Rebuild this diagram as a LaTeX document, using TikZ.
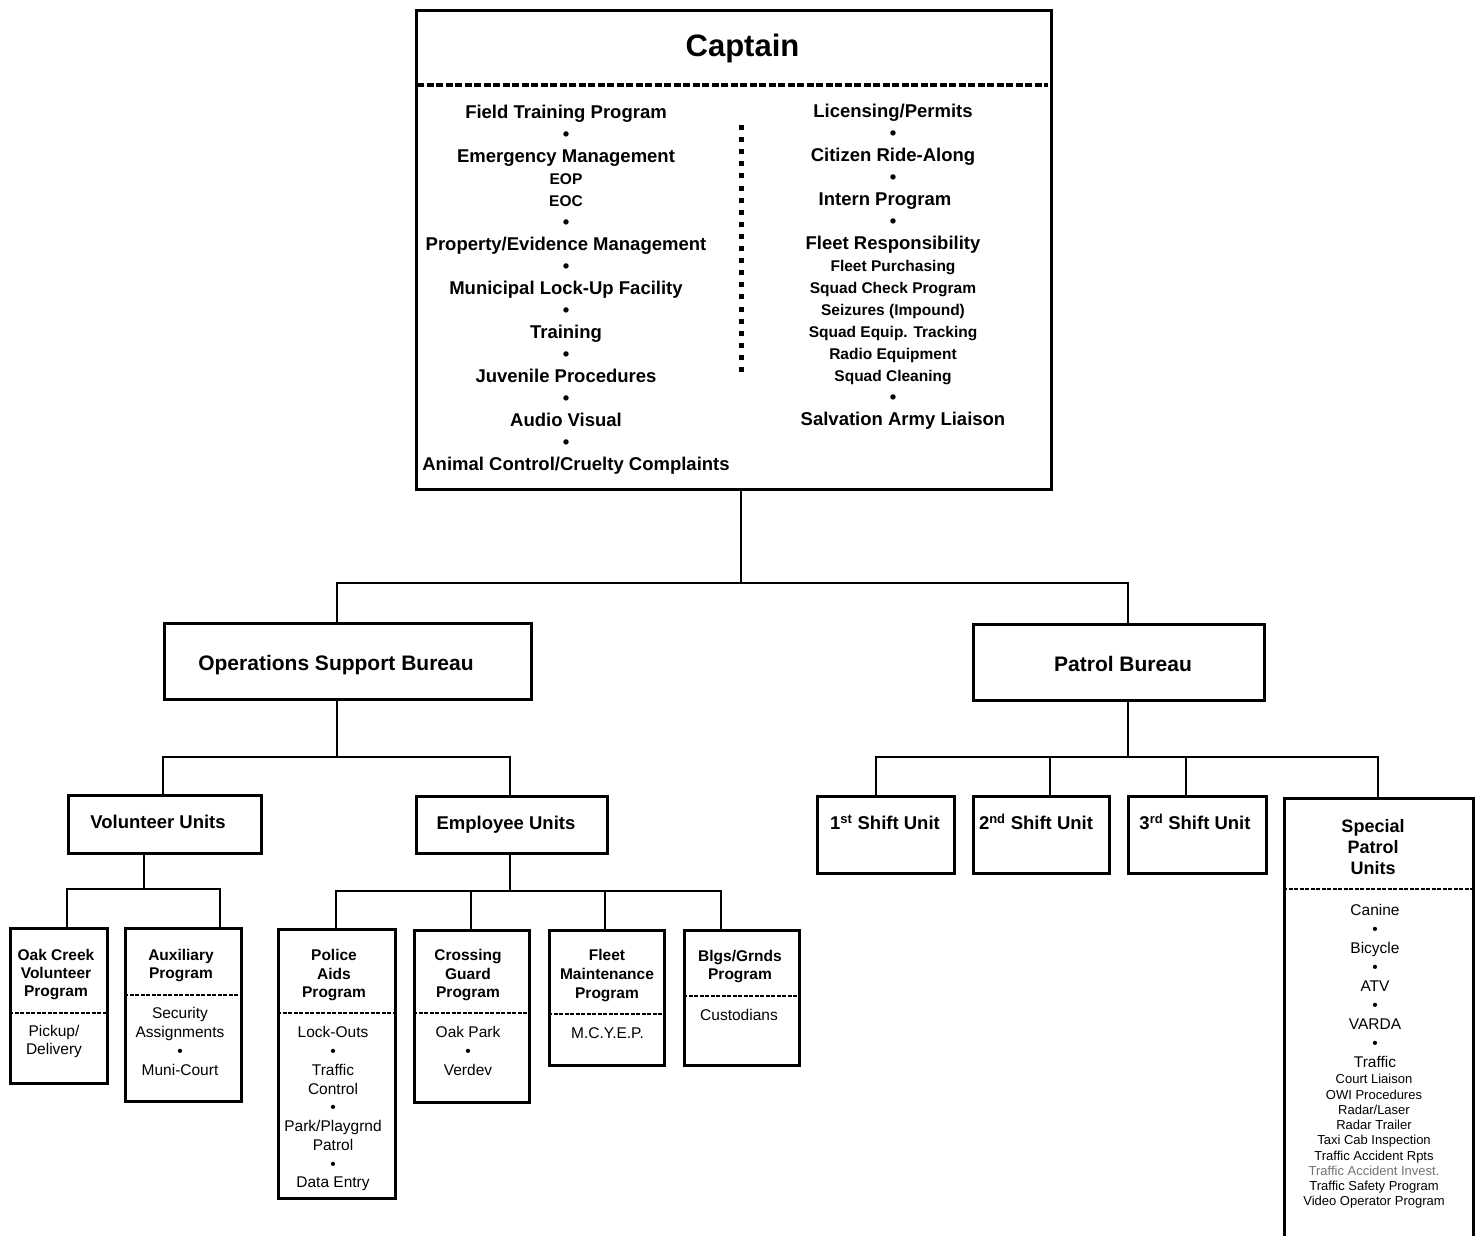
\documentclass[tikz,border=0pt]{standalone}
\usepackage{fontspec}
\setmainfont{Liberation Sans}
\newcommand\fsz[2]{\fontsize{#1pt}{#2pt}\selectfont}
\begin{document}
\begin{tikzpicture}[x=1pt,y=-1pt,
  box/.style={draw, line width=2.6pt, inner sep=0pt, anchor=north west},
  conn/.style={line width=2.6pt},
  div/.style={line width=2.7pt, dash pattern=on 4pt off 1.5pt},
  capdiv/.style={line width=4pt, dash pattern=on 7pt off 2.5pt},
  dotcol/.style={line width=5pt, dash pattern=on 5pt off 7.1pt},
  lbl/.style={inner sep=0pt, anchor=north, align=center},
  one/.style={inner sep=0pt, anchor=base},
  big/.style={font=\bfseries\fsz{18.5}{22}},
  bur/.style={font=\bfseries\fsz{21}{25}},
  ttl/.style={font=\bfseries\fsz{15.5}{#1}},
  txt/.style={font=\fsz{15.5}{#1}},
  tiny/.style={font=\fsz{13}{15.25}}
]
\useasboundingbox (0,0) rectangle (1475,1235);
\clip (0,0) rectangle (1475,1235);
\fill[white] (0,0) rectangle (1475,1235);

% ---------- boxes ----------
\node[box, minimum width=635pt, minimum height=479pt] (cap) at (415,9) {};
\node[box, minimum width=367pt, minimum height=76pt] (osb) at (163,622) {};
\node[box, minimum width=291pt, minimum height=76pt] (pb)  at (972,623) {};
\node[box, minimum width=193pt, minimum height=58pt] (vu)  at (67,794) {};
\node[box, minimum width=191pt, minimum height=57pt] (eu)  at (415,795) {};
\node[box, minimum width=97pt,  minimum height=155pt] (oak) at (9,927) {};
\node[box, minimum width=116pt, minimum height=173pt] (aux) at (124,927) {};
\node[box, minimum width=117pt, minimum height=269pt] (pol) at (277,928) {};
\node[box, minimum width=115pt, minimum height=172pt] (cro) at (413,929) {};
\node[box, minimum width=115pt, minimum height=135pt] (flt) at (548,929) {};
\node[box, minimum width=115pt, minimum height=135pt] (blg) at (683,929) {};
\node[box, minimum width=137pt, minimum height=77pt] (s1)  at (816,795) {};
\node[box, minimum width=136pt, minimum height=77pt] (s2)  at (972,795) {};
\node[box, minimum width=138pt, minimum height=77pt] (s3)  at (1127,795) {};
\node[box, minimum width=189pt, minimum height=460pt] (spu) at (1283,797) {};

% ---------- dividers ----------
\draw[capdiv] (417,85) -- (1048,85);
\draw[dotcol] (741,125) -- (741,373);
\draw[div] (9,1013) -- (106,1013);
\draw[div] (124,995) -- (240,995);
\draw[div] (277,1013) -- (394,1013);
\draw[div] (413,1013) -- (528,1013);
\draw[div] (548,1014) -- (663,1014);
\draw[div] (683,996) -- (798,996);
\draw[div] (1283,889) -- (1472,889);

% ---------- connectors ----------
\coordinate (j0) at (741,583);  \coordinate (j0l) at (337,583); \coordinate (j0r) at (1128,583);
\draw[conn] (cap.south -| j0) -- (j0);
\draw[conn] (osb.north -| j0l) -- (j0l) -- (j0r) -- (pb.north -| j0r);

\coordinate (j1) at (337,757);  \coordinate (j1l) at (163,757); \coordinate (j1r) at (510,757);
\draw[conn] (osb.south -| j1) -- (j1);
\draw[conn] (vu.north -| j1l) -- (j1l) -- (j1r) -- (eu.north -| j1r);

\coordinate (j2) at (144,889);  \coordinate (j2l) at (67,889);  \coordinate (j2r) at (220,889);
\draw[conn] (vu.south -| j2) -- (j2);
\draw[conn] (oak.north -| j2l) -- (j2l) -- (j2r) -- (aux.north -| j2r);

\coordinate (j3) at (510,891);  \coordinate (j3a) at (336,891); \coordinate (j3b) at (471,891);
\coordinate (j3c) at (605,891); \coordinate (j3d) at (721,891);
\draw[conn] (eu.south -| j3) -- (j3);
\draw[conn] (pol.north -| j3a) -- (j3a) -- (j3d) -- (blg.north -| j3d);
\draw[conn] (cro.north -| j3b) -- (j3b);
\draw[conn] (flt.north -| j3c) -- (j3c);

\coordinate (j4) at (1128,757); \coordinate (j4a) at (876,757); \coordinate (j4b) at (1050,757);
\coordinate (j4c) at (1186,757); \coordinate (j4d) at (1378,757);
\draw[conn] (pb.south -| j4) -- (j4);
\draw[conn] (s1.north -| j4a) -- (j4a) -- (j4d) -- (spu.north -| j4d);
\draw[conn] (s2.north -| j4b) -- (j4b);
\draw[conn] (s3.north -| j4c) -- (j4c);

% ---------- captain ----------
\node[one, font=\bfseries\fsz{31}{36}] (capt) at (742.5,56.1) {Captain};
\node[lbl, big] (capL) at (566,104.4) {Field Training Program\\ •\\ Emergency Management\\
  {\fsz{15.5}{22}EOP}\\ {\fsz{15.5}{22}EOC}\\ •\\ Property/Evidence Management\\ •\\
  Municipal Lock-Up Facility\\ •\\ Training\\ •\\ Juvenile Procedures\\ •\\ Audio Visual\\ •\\
  \hspace*{20pt}Animal Control/Cruelty Complaints};
\node[lbl, big] (capR) at (893,103.4) {Licensing/Permits\\ •\\ Citizen Ride-Along\\ •\\
  Intern Program\hspace*{16pt}\null\\ •\\ Fleet Responsibility\\
  {\fsz{15.5}{22}Fleet Purchasing}\\ {\fsz{15.5}{22}Squad Check Program}\\
  {\fsz{15.5}{22}Seizures (Impound)}\\ {\fsz{15.5}{22}Squad Equip. Tracking}\\
  {\fsz{15.5}{22}Radio Equipment}\\ {\fsz{15.5}{22}Squad Cleaning}\\ •\\
  \hspace*{20pt}Salvation Army Liaison};

% ---------- bureaus and units ----------
\node[one, bur] (osbT) at (336,670.5) {Operations Support Bureau};
\node[one, bur] (pbT) at (1123,671.5) {Patrol Bureau};
\node[one, big] (vuT) at (158,828.6) {Volunteer Units};
\node[one, big] (euT) at (506,829.6) {Employee Units};
\node[one, big] (s1T) at (885,829.6) {1\textsuperscript{st} Shift Unit};
\node[one, big] (s2T) at (1036,829.6) {2\textsuperscript{nd} Shift Unit};
\node[one, big] (s3T) at (1195,829.6) {3\textsuperscript{rd} Shift Unit};

% ---------- programs ----------
\node[lbl, ttl=18] (oakT) at (56,949.5) {Oak Creek\\ Volunteer\\ Program};
\node[lbl, txt=18] (oakC) at (54,1025.5) {Pickup/\\ Delivery};
\node[lbl, ttl=18] (auxT) at (181,949.5) {Auxiliary\\ Program};
\node[lbl, txt=18.7] (auxC) at (180,1007.5) {Security\\ Assignments\\ •\\ Muni-Court};
\node[lbl, ttl=18.5] (polT) at (334,949.5) {Police\\ Aids\\ Program};
\node[lbl, txt=18.75] (polC) at (333,1026.5) {Lock-Outs\\ •\\ Traffic\\ Control\\ •\\
  Park/Playgrnd\\ Patrol\\ •\\ Data Entry};
\node[lbl, ttl=18.5] (croT) at (468,949.5) {Crossing\\ Guard\\ Program};
\node[lbl, txt=19] (croC) at (468,1026.5) {Oak Park\\ •\\ Verdev};
\node[lbl, ttl=19] (fltT) at (607,949.5) {Fleet\\ Maintenance\\ Program};
\node[one, txt=19] (fltC) at (607.5,1038.5) {M.C.Y.E.P.};
\node[lbl, ttl=18] (blgT) at (740,950.5) {Blgs/Grnds\\ Program};
\node[one, txt=19] (blgC) at (739,1020.5) {Custodians};

% ---------- special patrol units ----------
\node[lbl, font=\bfseries\fsz{18}{21}] (spuT) at (1373,819.6) {Special\\ Patrol\\ Units};
\node[lbl, txt=19] (spuC) at (1375,904.5) {Canine\\ •\\ Bicycle\\ •\\ ATV\\ •\\ VARDA\\ •\\ Traffic};
\node[lbl, tiny] (spuD) at (1374,1074.3) {Court Liaison\\ OWI Procedures\\ Radar/Laser\\
  Radar Trailer\\ Taxi Cab Inspection\\ Traffic Accident Rpts\\
  \textcolor{black!55}{Traffic Accident Invest.}\\ Traffic Safety Program\\ Video Operator Program};
\end{tikzpicture}
\end{document}
